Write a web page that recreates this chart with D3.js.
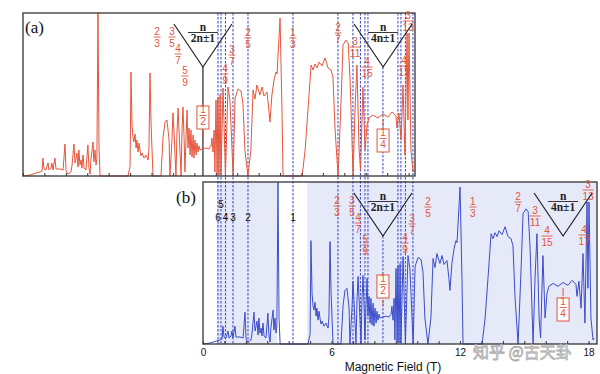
<!DOCTYPE html>
<html>
<head>
<meta charset="utf-8">
<script src="https://cdn.jsdelivr.net/npm/d3@7"></script>
<style>
  body { margin: 0; background: #fff; }
  svg { display: block; }
</style>
</head>
<body>
<div id="chart"></div>
<script>
// magnetoresistance trace (field in T, resistance in arbitrary units 0-100)
const fieldT = [0.00,0.33,0.61,0.79,0.89,0.93,0.98,1.07,1.17,1.21,
  1.31,1.35,1.40,1.49,1.54,1.73,1.87,1.96,2.01,2.10,
  2.24,2.29,2.38,2.43,2.52,2.57,2.61,2.66,2.71,2.75,
  2.80,2.85,2.94,3.03,3.08,3.13,3.17,3.27,3.31,3.36,
  3.41,3.45,3.50,3.55,3.60,4.90,5.00,5.04,5.09,5.14,
  5.18,5.23,5.28,5.32,5.37,5.42,5.46,5.51,5.56,5.65,
  5.74,5.84,5.88,5.93,5.98,6.07,6.44,6.54,6.63,6.72,
  6.82,6.86,6.96,7.00,7.05,7.14,7.19,7.24,7.28,7.38,
  7.42,7.47,7.52,7.56,7.61,7.66,7.70,7.75,7.80,7.84,
  7.89,7.94,7.98,8.03,8.08,8.12,8.17,8.22,8.26,8.40,
  8.54,8.68,8.78,8.82,8.87,8.92,8.96,9.01,9.06,9.10,
  9.15,9.20,9.24,9.34,9.45,9.57,9.66,9.81,9.90,10.04,
  10.18,10.27,10.36,10.50,10.64,10.74,10.83,10.92,11.06,11.16,
  11.25,11.39,11.48,11.53,11.62,11.72,11.81,11.86,12.00,12.09,
  12.14,13.03,13.17,13.31,13.45,13.54,13.63,13.73,13.82,13.96,
  14.10,14.24,14.38,14.47,14.57,14.71,14.85,14.94,15.08,15.18,
  15.27,15.41,15.50,15.59,15.69,15.76,15.87,15.97,16.06,16.15,
  16.34,16.57,16.81,17.04,17.23,17.41,17.46,17.55,17.65,17.74,
  17.83,17.93,17.97,18.02,18.11,18.21,18.25];
const resistance = [0,0.6,1.8,2.5,3.1,11.0,4.3,3.7,8.0,3.7,
  4.9,8.0,3.7,11.0,4.3,4.3,3.7,19.6,3.1,1.2,
  2.5,6.7,19.6,8.0,14.1,5.5,16.0,6.7,9.8,4.9,
  12.9,4.9,3.7,19.0,4.9,1.2,9.8,20.9,8.6,16.0,
  6.7,11.0,100,16.0,0,0,6.1,63.8,31.3,23.3,
  20.9,25.8,17.2,22.1,14.7,20.2,16.0,12.3,14.1,11.0,
  12.9,9.8,17.2,63.2,31.3,0,0,23.9,33.1,34.4,
  22.1,0,23.3,38.7,27.0,0,27.0,41.7,29.4,0,
  27.0,42.3,23.3,2.5,23.3,40.5,17.2,29.4,12.9,28.2,
  11.7,25.2,11.0,22.1,12.9,20.2,14.7,18.4,16.0,16.6,
  17.2,16.6,18.4,23.3,14.7,28.2,2.5,46.6,1.2,48.5,
  0.6,49.7,0.6,54.0,0,54.6,46.6,0,47.9,53.4,
  52.1,44.2,16.0,0,16.0,52.8,47.2,55.8,49.7,54.6,
  49.1,51.5,40.5,33.1,49.7,58.9,63.8,62.6,96.9,40.5,
  0,0,16.0,41.7,68.1,65.0,68.7,66.3,69.9,67.5,
  72.4,66.3,65.0,60.7,28.2,0,46.6,80.4,83.4,81.6,
  58.9,0,40.5,68.1,16.0,3.7,54.6,16.0,31.3,35.6,
  37.4,35.6,38.0,36.2,39.3,36.8,29.4,38.7,22.1,55.8,
  12.9,87.7,34.4,87.7,16.0,2.5,3.7];

// fractional filling factors (labels on both panels)
const fracNum = ['2','3','4','5','4','3','2','1','2','3','4','4','3'];
const fracDen = ['3','5','7','9','9','7','5','3','7','11','15','17','13'];
const fracAt  = [6.26,6.96,7.24,7.56,9.43,9.76,10.50,12.60,14.71,15.50,16.06,17.79,17.98];

// boxed half / quarter filling
const boxNum = ['1','1'];
const boxDen = ['2','4'];
const boxAt  = [8.40, 16.81];

// series headers n/(2n±1), n/(4n±1)
const seriesDen = ['2n\u00b11', '4n\u00b11'];
const seriesAt  = [8.40, 16.81];

// integer fillings in panel (b)
const intLabel = ['6','5','4','3','2','1'];
const intAt    = [0.70,0.84,1.05,1.40,2.10,4.20];

// dashed guide lines (panel b field, T)
const guideT = [0.70,0.84,1.05,1.40,2.10,4.20,6.30,7.00,7.35,7.56,7.70,9.10,9.24,9.45,9.80];
const vertexT = 8.40;

// shaded field ranges in panel (b)
const shadeFrom = [0.65, 4.86];
const shadeTo   = [3.45, 18.40];

const xTickLabels = [0, 6, 12, 18];

//
// Set-up
//
const W = 600, H = 374;
const red = '#e2553b';
const blue = '#3b4ccc';
const guideBlue = '#4653c9';
const sans = '"Liberation Sans", Arial, sans-serif';
const serif = '"Liberation Serif", "DejaVu Serif", serif';

const svg = d3.select('#chart').append('svg')
  .attr('width', W)
  .attr('height', H);

const A = { left: 23, right: 415, top: 13, bottom: 176 };
const B = { left: 203, right: 597, top: 182, bottom: 344 };

const xa = d3.scaleLinear().domain([0, 18.3]).range([23, 415]);
const xb = d3.scaleLinear().domain([0, 18.3]).range([203, 595]);
const ya = d3.scaleLinear().domain([0, 100]).range([A.bottom, A.top]);
const yb = d3.scaleLinear().domain([0, 100]).range([B.bottom, B.top]);

const data = d3.zip(fieldT, resistance);

// shading in panel (b)
svg.append('g').selectAll('rect')
  .data(d3.zip(shadeFrom, shadeTo))
  .enter().append('rect')
    .attr('x', d => xb(d[0]))
    .attr('y', B.top)
    .attr('width', d => Math.min(xb(d[1]), B.right) - xb(d[0]))
    .attr('height', B.bottom - B.top)
    .style('fill', '#e5e9f8');

// dashed guides spanning both panels
svg.append('g').selectAll('line')
  .data(guideT)
  .enter().append('line')
    .attr('x1', d => xb(d)).attr('x2', d => xb(d))
    .attr('y1', A.top).attr('y2', B.bottom)
    .style('stroke', guideBlue)
    .style('stroke-width', 1.1)
    .style('stroke-dasharray', '2.5,1.5');

const vTop = 11, vTip = 54, vHalf = 29;

// vertex guides
svg.append('line')
  .attr('x1', xb(vertexT)).attr('x2', xb(vertexT))
  .attr('y1', A.top + vTip).attr('y2', A.bottom)
  .style('stroke', guideBlue).style('stroke-width', 1.1).style('stroke-dasharray', '2.5,1.5');
svg.append('line')
  .attr('x1', xb(vertexT)).attr('x2', xb(vertexT))
  .attr('y1', B.top + vTip).attr('y2', B.bottom)
  .style('stroke', guideBlue).style('stroke-width', 1.1).style('stroke-dasharray', '2.5,1.5');
svg.append('line')
  .attr('x1', xa(seriesAt[0])).attr('x2', xa(seriesAt[0]))
  .attr('y1', A.top + vTip).attr('y2', A.bottom)
  .style('stroke', '#222').style('stroke-width', 1.2);

// traces
const lineA = d3.line().x(d => xa(d[0])).y(d => ya(d[1]));
const lineB = d3.line().x(d => xb(d[0])).y(d => yb(d[1]));

svg.append('path').datum(data)
  .attr('d', lineA)
  .style('fill', 'none').style('stroke', '#e8553c').style('stroke-width', 1);
svg.append('path').datum(data)
  .attr('d', lineB)
  .style('fill', 'none').style('stroke', blue).style('stroke-width', 1);

// frames
[A, B].forEach(p => {
  svg.append('rect')
    .attr('x', p.left).attr('y', p.top)
    .attr('width', p.right - p.left).attr('height', p.bottom - p.top)
    .style('fill', 'none').style('stroke', '#333').style('stroke-width', 1.3);
});

// inner minor ticks
const minor = d3.range(0, 19, 1);
svg.append('g')
  .attr('transform', `translate(0, ${A.bottom})`)
  .call(d3.axisBottom(xa).tickValues(minor).tickSize(-3).tickFormat(''))
  .call(g => g.select('.domain').remove())
  .call(g => g.selectAll('line').style('stroke', '#333'));
svg.append('g')
  .attr('transform', `translate(0, ${B.bottom})`)
  .call(d3.axisBottom(xb).tickValues(minor).tickSize(-3).tickFormat(''))
  .call(g => g.select('.domain').remove())
  .call(g => g.selectAll('line').style('stroke', '#333'));

// tick labels
svg.append('g')
  .attr('transform', `translate(0, ${B.bottom})`)
  .call(d3.axisBottom(xb).tickValues(xTickLabels).tickSize(0).tickPadding(5))
  .call(g => g.select('.domain').remove())
  .call(g => g.selectAll('text').style('font-family', sans).style('font-size', '10px').style('fill', '#111'));

svg.append('text')
  .attr('x', 393).attr('y', 371)
  .attr('text-anchor', 'middle')
  .style('font-family', sans).style('font-size', '12px').style('fill', '#111')
  .text('Magnetic Field (T)');

// panel letters
svg.append('text').attr('x', 25).attr('y', 33)
  .style('font-family', serif).style('font-size', '17px').style('fill', '#111').text('(a)');
svg.append('text').attr('x', 176).attr('y', 203)
  .style('font-family', serif).style('font-size', '17px').style('fill', '#111').text('(b)');

//
// Annotations
//
const fracDy = [18,18,35,57,55,36,19,19,14,28,48,47,2];
const boxDy = [93, 116];

function drawFrac(g, x, cy, num, den) {
  const w = Math.max(num.length, den.length) > 1 ? 11 : 7;
  g.append('text').attr('x', x).attr('y', cy + 3.6)
    .attr('text-anchor', 'middle').text(num);
  g.append('line')
    .attr('x1', x - w / 2).attr('x2', x + w / 2)
    .attr('y1', cy + 6).attr('y2', cy + 6)
    .style('stroke', red).style('stroke-width', 0.9);
  g.append('text').attr('x', x).attr('y', cy + 15.6)
    .attr('text-anchor', 'middle').text(den);
}

[[xa, A], [xb, B]].forEach(([x, p]) => {
  const g = svg.append('g')
    .style('font-family', sans).style('font-size', '10px').style('fill', red);

  fracAt.forEach((f, i) => drawFrac(g, x(f), p.top + fracDy[i], fracNum[i], fracDen[i]));

  boxAt.forEach((f, i) => {
    const bw = 12, bh = 23, bx = x(f), by = p.top + boxDy[i];
    g.append('rect')
      .attr('x', bx - bw / 2).attr('y', by)
      .attr('width', bw).attr('height', bh)
      .style('fill', '#fff').style('stroke', red).style('stroke-width', 1);
    drawFrac(g, bx, by + 3.5, boxNum[i], boxDen[i]);
  });

  // little pointers from the boxes to the plateaus
  g.append('line')
    .attr('x1', x(boxAt[0])).attr('x2', x(boxAt[0]))
    .attr('y1', p.top + boxDy[0] + 25).attr('y2', p.top + boxDy[0] + 31)
    .style('stroke', red).style('stroke-width', 1);
  g.append('line')
    .attr('x1', x(boxAt[1])).attr('x2', x(boxAt[1]))
    .attr('y1', p.top + boxDy[1] - 2).attr('y2', p.top + boxDy[1] - 10)
    .style('stroke', red).style('stroke-width', 1);

  // V-shaped series headers
  seriesAt.forEach((f, i) => {
    const cx = x(f);
    svg.append('path')
      .attr('d', `M${cx - vHalf},${p.top + vTop} L${cx},${p.top + vTip} L${cx + vHalf},${p.top + vTop}`)
      .style('fill', 'none').style('stroke', '#222').style('stroke-width', 1.2);
    const t = svg.append('g')
      .style('font-family', serif).style('font-weight', 'bold')
      .style('font-size', '11.5px').style('fill', '#222');
    t.append('text').attr('x', cx).attr('y', p.top + 17.5)
      .attr('text-anchor', 'middle').text('n');
    t.append('line')
      .attr('x1', cx - 15).attr('x2', cx + 15)
      .attr('y1', p.top + 19.5).attr('y2', p.top + 19.5)
      .style('stroke', '#222').style('stroke-width', 0.9);
    t.append('text').attr('x', cx).attr('y', p.top + 28.5)
      .attr('text-anchor', 'middle').text(seriesDen[i]);
  });
});

// integer fillings in panel (b)
svg.append('g').selectAll('text')
  .data(intAt)
  .enter().append('text')
    .attr('x', d => xb(d))
    .attr('y', (d, i) => B.top + (intLabel[i] === '5' ? 25.5 : 38.5))
    .attr('text-anchor', 'middle')
    .style('font-family', sans).style('font-size', '10px').style('fill', '#111')
    .text((d, i) => intLabel[i]);

// watermark
svg.append('text')
  .attr('x', 473).attr('y', 358)
  .style('font-family', '"Noto Sans CJK SC", sans-serif')
  .style('font-size', '16px')
  .style('fill', '#fff').style('stroke', '#aaa').style('stroke-width', 0.8)
  .text('知乎 @古天卦');
</script>
</body>
</html>
